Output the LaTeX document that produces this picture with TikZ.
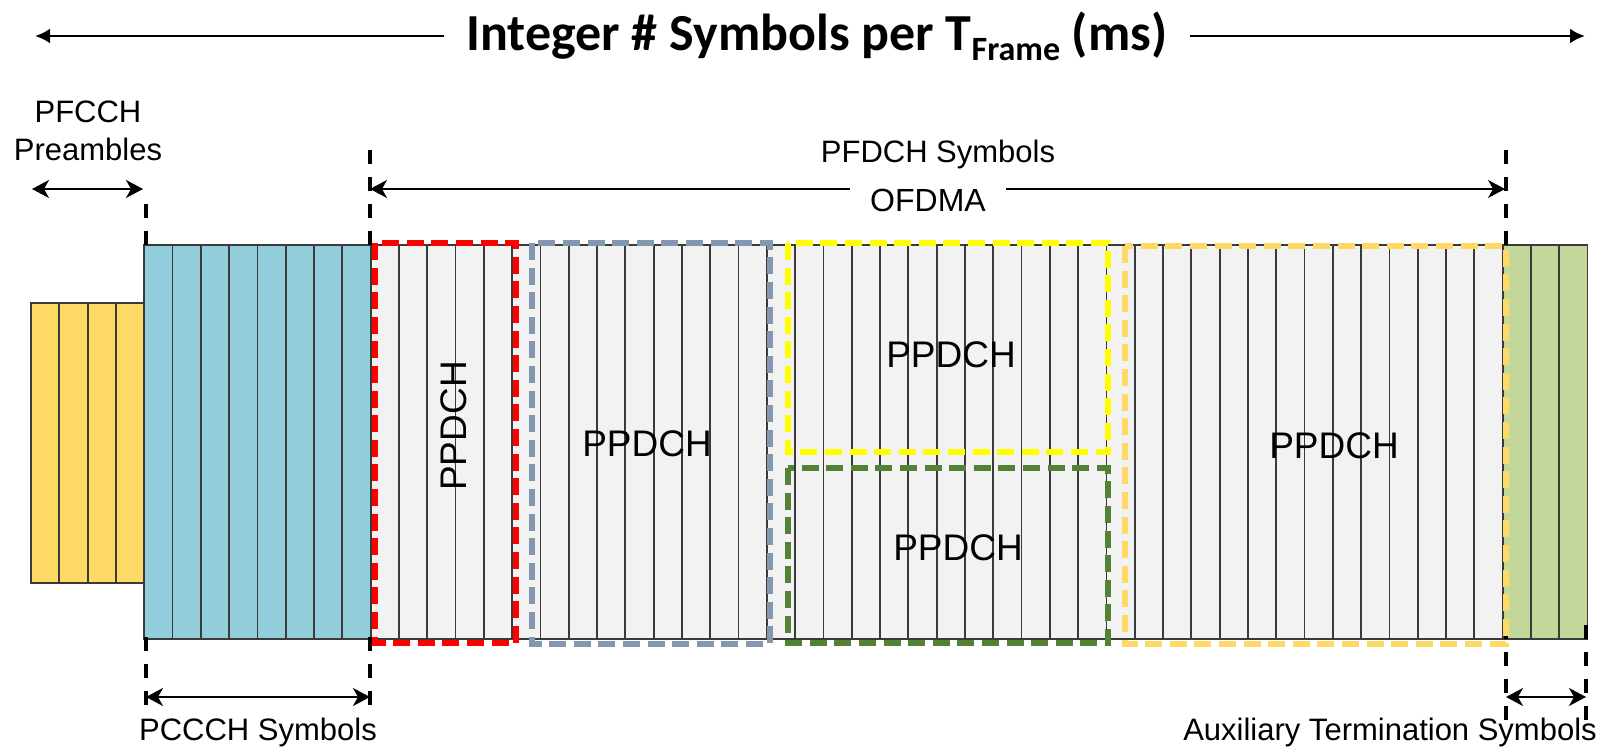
\documentclass[tikz,border=0pt]{standalone}
\usepackage{fontspec}
\setsansfont{Liberation Sans}
\newfontfamily\titlefont{Carlito}
\usetikzlibrary{arrows.meta,positioning,calc}
\definecolor{ink}{HTML}{000000}
\definecolor{cellline}{HTML}{3A3A3A}
\definecolor{pfcch}{HTML}{FFD966}
\definecolor{pccch}{HTML}{92CDDC}
\definecolor{pfdch}{HTML}{F2F2F2}
\definecolor{auxterm}{HTML}{C4D79B}
\definecolor{ppred}{HTML}{FF0000}
\definecolor{ppslate}{HTML}{8497B0}
\definecolor{ppyellow}{HTML}{FFFF00}
\definecolor{ppgreen}{HTML}{548235}
\definecolor{ppgold}{HTML}{FFD966}
\tikzset{
  cell/.style={draw=cellline, line width=0.9pt},
  alloc/.style={line width=2.9pt, dash pattern=on 8.5pt off 3.8pt},
  marker/.style={draw=ink, line width=2pt, dash pattern=on 7pt off 6.5pt},
  title/.style={font=\titlefont\bfseries\fontsize{26}{30}\selectfont, text=ink, inner xsep=11pt, inner ysep=0pt},
  label/.style={font=\sffamily\fontsize{15.5}{19}\selectfont, text=ink, align=center, inner sep=0pt},
  chan/.style={font=\sffamily\fontsize{18.5}{22}\selectfont, text=ink, inner sep=0pt},
  bigarrow/.style={-{Latex[length=7.5pt,width=7.5pt]}, line width=1.4pt, draw=ink},
  spanarrow/.style={{Stealth[length=8.5pt,width=9pt,inset=2.5pt]}-{Stealth[length=8.5pt,width=9pt,inset=2.5pt]}, line width=0.8pt, draw=ink},
  onearrow/.style={-{Stealth[length=8.5pt,width=9pt,inset=2.5pt]}, line width=0.8pt, draw=ink}
}

\begin{document}
\begin{tikzpicture}[x=0.5pt, y=-0.5pt]
\useasboundingbox (0,0) rectangle (1604,747);
\foreach \k in {0,...,3} \draw[cell, fill=pfcch] ({31+28.3*\k},303) rectangle ++(28.3,280);
\foreach \k in {4,...,11} \draw[cell, fill=pccch] ({31+28.3*\k},245) rectangle ++(28.3,394);
\foreach \k in {12,...,51} \draw[cell, fill=pfdch] ({31+28.3*\k},245) rectangle ++(28.3,394);
\foreach \k in {52,...,54} \draw[cell, fill=auxterm] ({31+28.3*\k},245) rectangle ++(28.3,394);
\foreach \x/\y in {146/200, 370/148, 1506/148} \draw[marker] (\x,245) -- (\x,\y);
\foreach \x in {146,370} \draw[marker] (\x,637) -- (\x,707);
\foreach \x in {1506,1586} \draw[marker] (\x,625) -- (\x,723);
\draw[alloc, draw=ppred] (375,243) rectangle (516,643);
\draw[alloc, draw=ppslate] (532,243) rectangle (770,644);
\draw[alloc, draw=ppyellow] (788,243) rectangle (1108,452);
\draw[alloc, draw=ppgreen] (788,468) rectangle (1108,643);
\draw[alloc, draw=ppgold] (1125,246) rectangle (1506,644);
\node[chan, rotate=90] (ppA) at (454,426) {PPDCH};
\node[chan] (ppB) at (647,444) {PPDCH};
\node[chan] (ppC) at (951,355) {PPDCH};
\node[chan] (ppD) at (958,548) {PPDCH};
\node[chan] (ppE) at (1334,446) {PPDCH};
\node[title, anchor=base] (ttl) at (817,51) {Integer \# Symbols per T\raisebox{-5pt}{\fontsize{17}{17}\selectfont Frame} (ms)};
\coordinate (ttlL) at (35,36);
\coordinate (ttlR) at (1585,36);
\draw[bigarrow] (ttl.west |- ttlL) -- (ttlL);
\draw[bigarrow] (ttl.east |- ttlR) -- (ttlR);
\node[label] (pre) at (88,131) {PFCCH\\Preambles};
\coordinate (preL) at (32,189);
\coordinate (preR) at (143,189);
\draw[spanarrow] (preL) -- (preR);
\node[label, anchor=base] (fdch) at (938,163) {PFDCH Symbols};
\node[label, anchor=base, font=\sffamily\fontsize{16}{19}\selectfont, inner xsep=10pt] (ofdma) at (928,212) {OFDMA};
\coordinate (fdL) at (370,189);
\coordinate (fdR) at (1505,189);
\draw[onearrow] (ofdma.west |- fdL) -- (fdL);
\draw[onearrow] (ofdma.east |- fdR) -- (fdR);
\coordinate (ccL) at (146,697);
\coordinate (ccR) at (370,697);
\draw[spanarrow] (ccL) -- (ccR);
\node[label, anchor=base] (pccch) at (258,740) {PCCCH Symbols};
\coordinate (auxL) at (1506,697);
\coordinate (auxR) at (1586,697);
\draw[spanarrow] (auxL) -- (auxR);
\node[label, anchor=base] (aux) at (1390,740) {Auxiliary Termination Symbols};
\end{tikzpicture}
\end{document}
